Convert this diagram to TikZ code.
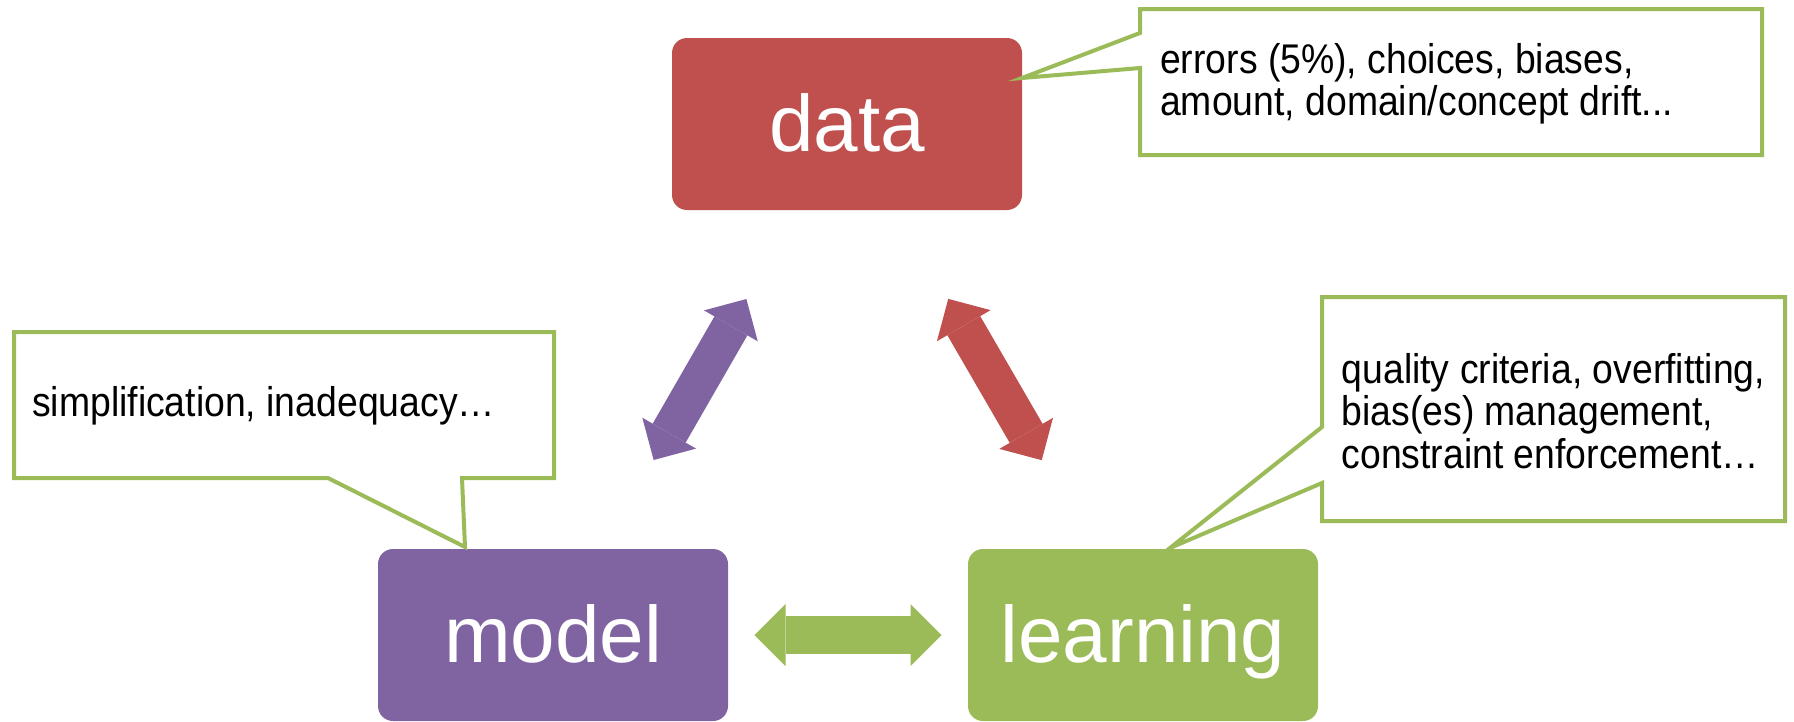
\documentclass[tikz,border=0pt]{standalone}
\usepackage{fontspec}
\setmainfont{Liberation Sans}
\newfontfamily\notefont[FakeStretch=0.9]{Liberation Sans}
\usetikzlibrary{arrows.meta}
\definecolor{datared}{HTML}{C0504D}
\definecolor{modelpurple}{HTML}{8064A2}
\definecolor{learngreen}{HTML}{9BBB59}

\begin{document}
\begin{tikzpicture}[x=1pt,y=-1pt]
        %styles
        \tikzstyle{topic}=[rectangle, rounded corners=15pt, minimum width=350pt, minimum height=172pt, inner sep=0pt, outer sep=0pt, text=white, font=\fontsize{80}{92}\selectfont, text height=58pt, text depth=4pt]
        \tikzstyle{bubble}=[draw=learngreen, line width=4pt, fill=white, line join=miter]
        \tikzstyle{note}=[anchor=base west, align=left, inner sep=0pt, font=\notefont\fontsize{41.5}{42.5}\selectfont]
        \tikzstyle{link}=[line width=38pt, {Triangle[length=31pt,width=62pt,line width=0pt]}-{Triangle[length=31pt,width=62pt,line width=0pt]}]

        \useasboundingbox (0,0) rectangle (1794,721);

        %nodes
        \node[topic, fill=datared] (data) at (847,124) {data};
        \node[topic, fill=modelpurple] (model) at (553,635) {model};
        \node[topic, fill=learngreen] (learning) at (1143,635) {learning};

        %callouts (base anchor sits on the last line)
        \draw[bubble] (1140,9) -- (1762,9) -- (1762,155) -- (1140,155) -- (1140,68) -- (1022,78) -- (1140,33) -- cycle;
        \draw[bubble] (14,332) -- (554,332) -- (554,478) -- (462,478) -- (465,547) -- (328,478) -- (14,478) -- cycle;
        \draw[bubble] (1322,297) -- (1785,297) -- (1785,521) -- (1322,521) -- (1322,483) -- (1170,548) -- (1322,427) -- cycle;

        \node[note] (datanote) at (1160,115.5) {errors (5\%), choices, biases,\\amount, domain/concept drift...};
        \node[note] (modelnote) at (32,416) {simplification, inadequacy…};
        \node[note] (learningnote) at (1341.5,468) {quality criteria, overfitting,\\bias(es) management,\\constraint enforcement…};

        %arrows
        \draw[link, modelpurple, shorten <=102.7pt, shorten >=102.7pt] (model) -- (data);
        \draw[link, datared, shorten <=102.7pt, shorten >=102.7pt] (learning) -- (data);
        \draw[link, learngreen, shorten <=26.5pt, shorten >=26.5pt] (model) -- (learning);
\end{tikzpicture}
\end{document}
